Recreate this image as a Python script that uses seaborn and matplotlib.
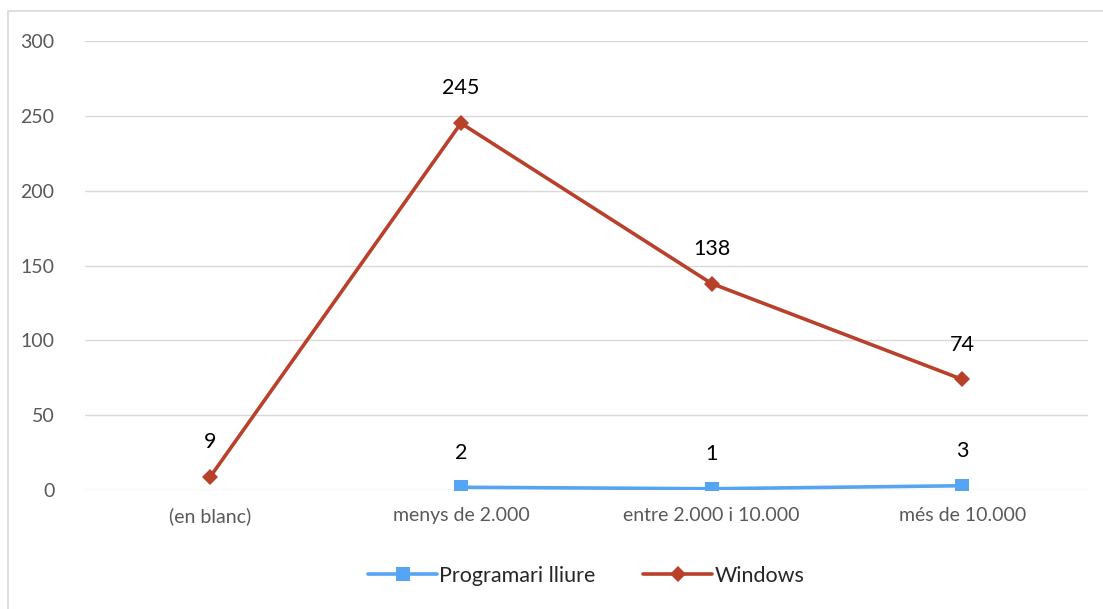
import numpy as np
import pandas as pd
import seaborn as sns
import matplotlib.pyplot as plt
from matplotlib.patches import Rectangle

categories = ['(en blanc)', 'menys de 2.000', 'entre 2.000 i 10.000', 'més de 10.000']
programari_lliure = [np.nan, 2, 1, 3]
windows = [9, 245, 138, 74]
series_names = ['Programari lliure', 'Windows']
yticks = [0, 50, 100, 150, 200, 250, 300]

pos = list(range(len(categories)))
df = pd.DataFrame({
    'pos': pos * 2,
    'serie': [series_names[0]] * 4 + [series_names[1]] * 4,
    'valor': programari_lliure + windows,
})

sns.set_style('white')
plt.rcParams['font.family'] = ['Lato', 'DejaVu Sans']

palette = {'Programari lliure': '#56A5F5', 'Windows': '#B9412C'}

fig = plt.figure(figsize=(11.03, 6.09), dpi=100)
ax = fig.add_axes([0.077, 0.195, 0.909, 0.738])

sns.lineplot(
    data=df.dropna(),
    x='pos',
    y='valor',
    hue='serie',
    hue_order=series_names,
    style='serie',
    markers={'Programari lliure': 's', 'Windows': 'D'},
    dashes=False,
    palette=palette,
    linewidth=2.6,
    markersize=8.5,
    markeredgewidth=0,
    ax=ax,
    legend=True,
)
# squares a bit bigger than the diamonds, like the original
for ln in ax.lines:
    if ln.get_marker() == 's':
        ln.set_markersize(10)

# data labels above each point
for name, vals in zip(series_names, [programari_lliure, windows]):
    for i, v in enumerate(vals):
        if np.isnan(v):
            continue
        ax.annotate('{0:g}'.format(v), (i, v), xytext=(0, 25), textcoords='offset points',
                    ha='center', va='center', fontsize=15.5, color='black')

ax.set_xlim(-0.5, 3.5)
ax.set_ylim(0, 300)
ax.set_yticks(yticks)
ax.set_xticks(pos)
ax.set_xticklabels(categories)
ax.set(xlabel='', ylabel='')
ax.grid(axis='y', color='#D9D9D9', linewidth=1)
ax.set_axisbelow(True)
for s in ax.spines.values():
    s.set_visible(False)
ax.tick_params(axis='both', length=0, labelsize=14, labelcolor='#595959')
ax.tick_params(axis='x', pad=12)
ax.tick_params(axis='y', pad=22)

handles, labels = ax.get_legend_handles_labels()
for h in handles:
    if h.get_marker() == 's':
        h.set_markersize(10)
ax.legend(handles, labels, loc='center', bbox_to_anchor=(0.5, -0.19), ncol=2, frameon=False,
          fontsize=15.5, handlelength=3.2, handletextpad=0.1, columnspacing=2.2)

fig.add_artist(Rectangle((8 / 1103, -0.05), 1.2, 1.05 - 11 / 609, transform=fig.transFigure,
                         fill=False, edgecolor='#D9D9D9', linewidth=1.2))

fig.savefig('out.png', dpi=100)
